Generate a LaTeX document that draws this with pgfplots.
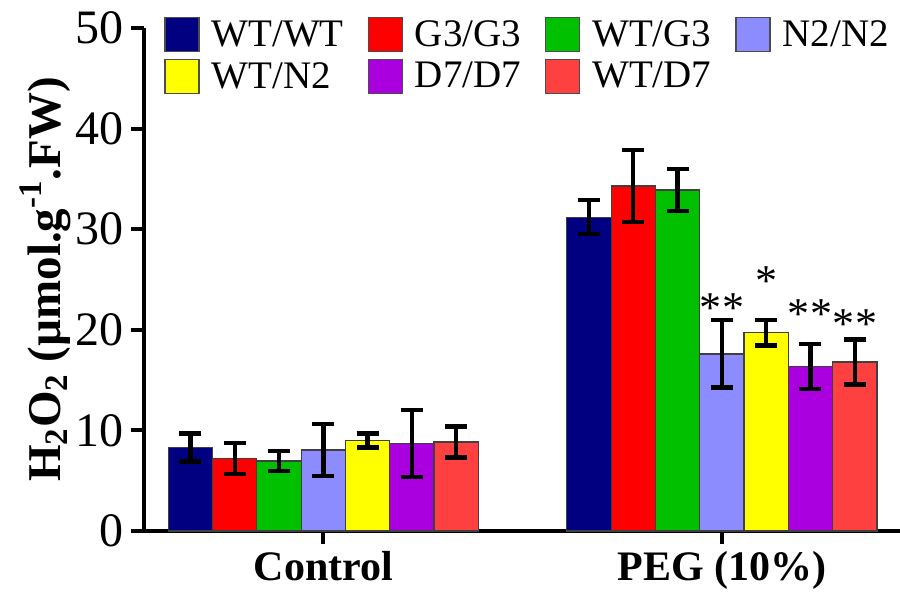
\documentclass[border=0pt]{standalone}
\usepackage{fontspec}
\setmainfont{Liberation Serif}
\usepackage{pgfplots}
\usepackage{pgfplotstable}
\pgfplotsset{compat=1.18}
\usetikzlibrary{calc}

\definecolor{cA}{RGB}{0,0,128}
\definecolor{cB}{RGB}{255,0,0}
\definecolor{cC}{RGB}{0,192,0}
\definecolor{cD}{RGB}{140,140,255}
\definecolor{cE}{RGB}{255,255,0}
\definecolor{cF}{RGB}{170,0,224}
\definecolor{cG}{RGB}{255,64,64}

\pgfplotstableread{
x y e
0 8.3 1.4
1 31.2 1.7
}\tA
\pgfplotstableread{
x y e
0 7.2 1.55
1 34.3 3.6
}\tB
\pgfplotstableread{
x y e
0 6.95 1.0
1 33.9 2.1
}\tC
\pgfplotstableread{
x y e
0 8.05 2.6
1 17.6 3.35
}\tD
\pgfplotstableread{
x y e
0 9.0 0.7
1 19.7 1.25
}\tE
\pgfplotstableread{
x y e
0 8.7 3.35
1 16.35 2.25
}\tF
\pgfplotstableread{
x y e
0 8.85 1.55
1 16.8 2.25
}\tG

\begin{document}
\begin{tikzpicture}
\begin{axis}[
  name=ax, at={(0,0)}, anchor=south west,
  scale only axis, width=378pt, height=251.5pt,
  xmin=-0.4499, xmax=1.447, ymin=0, ymax=50,
  ybar=0pt, bar width=22.15pt,
  axis x line*=bottom, axis y line*=left,
  axis line style={line width=2pt, -},
  xtick={0,1}, xticklabels={Control, PEG (10\%)},
  ytick={0,10,...,50},
  tick align=outside, major tick length=6.5pt,
  every tick/.style={black, line width=2pt},
  /pgf/number format/assume math mode=true,
  yticklabel style={font=\fontsize{24}{24}\selectfont},
  xticklabel style={font=\bfseries\fontsize{21}{21}\selectfont},
  ylabel={H\textsubscript{2}O\textsubscript{2} (µmol.g\textsuperscript{-1}.FW)},
  ylabel style={font=\bfseries\fontsize{23.5}{23.5}\selectfont, at={(axis description cs:-0.1111,0.50)}, anchor=base, rotate=0},
  clip=false,
  error bars/y dir=both, error bars/y explicit,
  error bars/error bar style={line width=2.2pt, black},
  error bars/error mark options={rotate=90, mark size=5.5pt, line width=2.2pt, black},
  every axis plot/.append style={draw=black!75, line width=0.6pt},
  legend columns=4,
  legend image code/.code={\draw[#1, draw=black!70, line width=0.6pt] (0pt,-8.5pt) rectangle (17pt,8.5pt);},
  legend style={draw=none, fill=none, at={(axis description cs:0,1)}, anchor=north west, xshift=7pt, yshift=8pt,
    font=\fontsize{19.5}{21}\selectfont, legend cell align=left, column sep=4pt, row sep=2.5pt,
    /tikz/every even column/.append style={column sep=10pt}},
]
\addplot[fill=cA] table[x=x, y=y, y error=e]{\tA};
\addplot[fill=cB] table[x=x, y=y, y error=e]{\tB};
\addplot[fill=cC] table[x=x, y=y, y error=e]{\tC};
\addplot[fill=cD] table[x=x, y=y, y error=e]{\tD};
\addplot[fill=cE] table[x=x, y=y, y error=e]{\tE};
\addplot[fill=cF] table[x=x, y=y, y error=e]{\tF};
\addplot[fill=cG] table[x=x, y=y, y error=e]{\tG};
\legend{WT/WT, G3/G3, WT/G3, N2/N2, WT/N2, D7/D7, WT/D7}
\node[font=\fontsize{22}{22}\selectfont, anchor=base, inner sep=0pt] at (axis cs:1,20.7) {*\kern0.5pt*};
\node[font=\fontsize{22}{22}\selectfont, anchor=base, inner sep=0pt] at (axis cs:1.111,23.36) {*};
\node[font=\fontsize{22}{22}\selectfont, anchor=base, inner sep=0pt] at (axis cs:1.222,20.08) {*\kern0.5pt*};
\node[font=\fontsize{22}{22}\selectfont, anchor=base, inner sep=0pt] at (axis cs:1.333,19.15) {*\kern0.5pt*};
\end{axis}
\pgfresetboundingbox
\path ($(ax.south west)+(-72pt,-31.5pt)$) rectangle ($(ax.north east)+(0pt,14pt)$);
\end{tikzpicture}
\end{document}
